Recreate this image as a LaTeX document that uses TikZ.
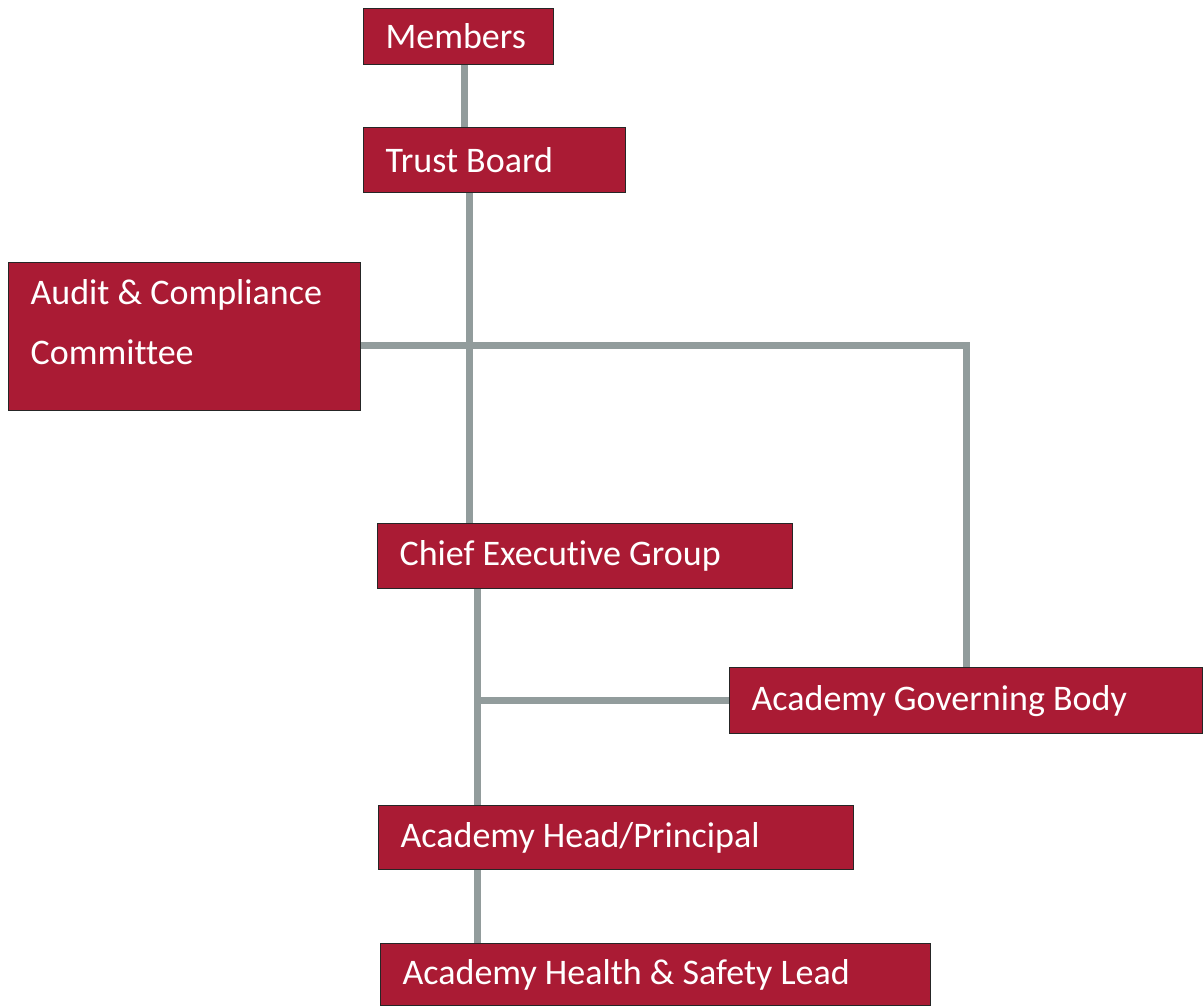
\documentclass[tikz,border=0pt]{standalone}
\usepackage{fontspec}
\setmainfont{Carlito}[Ligatures=NoCommon]
\definecolor{boxred}{RGB}{170,27,52}
\definecolor{linkgray}{RGB}{146,156,156}
\tikzset{
  orgbox/.style={draw=black!85,line width=0.6pt,fill=boxred,text=white,anchor=north west,
    inner xsep=11pt,inner ysep=0pt,align=flush left,font=\fontsize{18}{30}\selectfont},
  link/.style={linkgray,line width=3.5pt}
}
% Syntax: \orgbox[extra options]{name}{x}{y}{width}{height}{text}, all in px
\newcommand{\orgbox}[7][]{
  \node[orgbox,minimum width=#5*0.5pt,minimum height=#6*0.5pt,
        text width=(#5-44)*0.5pt,#1] (#2) at (#3,#4) {#7};
}
\begin{document}
\begin{tikzpicture}[x=0.5pt,y=-0.5pt]
	\useasboundingbox (0,0) rectangle (1203,1007);
	\orgbox{members}{363}{8}{190}{56}{Members}
	\orgbox{trust}{363}{127}{262}{65}{Trust Board}
	\orgbox[text depth=45pt]{audit}{8}{262}{352}{148}{Audit \& Compliance\\Committee}
	\orgbox{ceo}{377}{523}{415}{65}{Chief Executive Group}
	\orgbox{gov}{729}{667}{473}{66}{Academy Governing Body}
	\orgbox{head}{378}{805}{475}{64}{Academy Head/Principal}
	\orgbox{hs}{380}{943}{550}{62}{Academy Health \& Safety Lead}
	% trunk lines
	\coordinate (upper) at (469,345);
	\coordinate (lower) at (477,700);
	\draw[link] (members.south -| 464,0) -- (trust.north -| 464,0);
	\draw[link] (trust.south -| upper) -- (ceo.north -| upper);
	\draw[link] (audit.east |- upper) -- (upper -| gov.north) -- (gov.north);
	\draw[link] (ceo.south -| lower) -- (head.north -| lower);
	\draw[link] (lower) -- (lower -| gov.west);
	\draw[link] (head.south -| lower) -- (hs.north -| lower);
\end{tikzpicture}
\end{document}
